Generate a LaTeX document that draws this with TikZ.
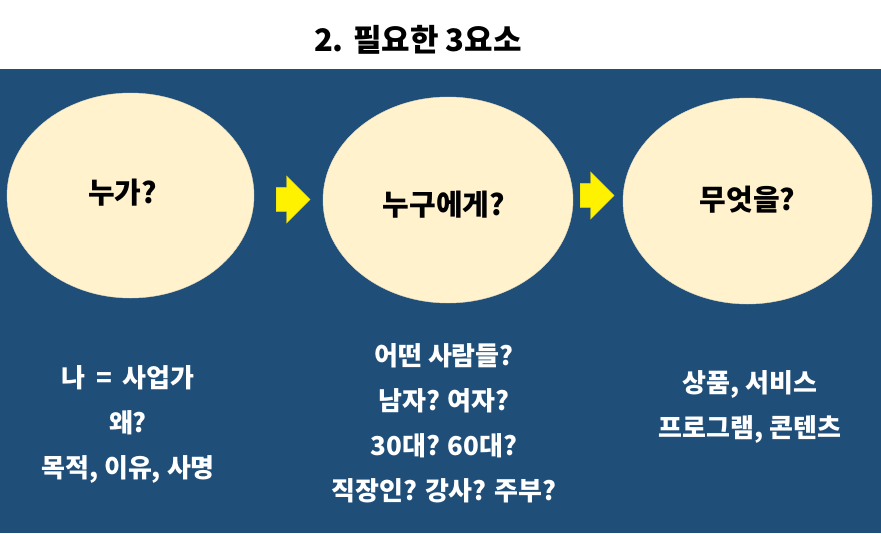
\documentclass[tikz,border=0pt]{standalone}
\usepackage{fontspec}
\setmainfont{Noto Sans CJK KR}
\usetikzlibrary{shapes.geometric,shapes.arrows}
\definecolor{bgblue}{RGB}{31,78,121}
\definecolor{cream}{RGB}{255,242,204}
\tikzset{
  oval/.style={ellipse,fill=cream,draw=cream!80!gray,line width=0.4pt,inner sep=0pt},
  ovaltext/.style={font=\fontsize{29}{32}\selectfont\bfseries},
  yarrow/.style={single arrow,fill=yellow,draw=yellow!85!black,line width=0.3pt,inner sep=0pt,
    anchor=tail,minimum height=34pt,single arrow head extend=11.5pt,single arrow head indent=0pt},
  notes/.style={text=white,align=center,font=\fontsize{26}{45}\selectfont\bfseries}
}
\begin{document}
\begin{tikzpicture}[x=1pt,y=-1pt]
\useasboundingbox (0,0) rectangle (881,533);
\fill[bgblue] (0,69) rectangle (881,533);
\node[font=\fontsize{31}{34}\selectfont\bfseries] (title) at (418,40) {2. 필요한 3요소};
% three ovals
\node[oval,minimum width=247pt,minimum height=205pt] (who) at (130.5,195.5) {};
\node[oval,minimum width=250pt,minimum height=206pt] (whom) at (448,200) {};
\node[oval,minimum width=249pt,minimum height=206pt] (what) at (747.5,201) {};
\node[ovaltext] (l1) at (122.5,193) {누가?};
\node[ovaltext] (l2) at (444,205) {누구에게?};
\node[ovaltext] (l3) at (747.5,200) {무엇을?};
% arrows between
\node[yarrow] (a1) at (276,199.5) {\rule{0pt}{24pt}};
\node[yarrow] (a2) at (580,195.5) {\rule{0pt}{24pt}};
% notes below
\node[notes] (n1) at (128,424.5) {나\hspace{0.4em}=\hspace{0.4em}사업가\\왜?\\목적, 이유, 사명};
\node[notes] (n2) at (444,423) {어떤 사람들?\\남자? 여자?\\30대? 60대?\\직장인? 강사? 주부?};
\node[notes] (n3) at (750,406.5) {상품, 서비스\\프로그램, 콘텐츠};
\end{tikzpicture}
\end{document}
